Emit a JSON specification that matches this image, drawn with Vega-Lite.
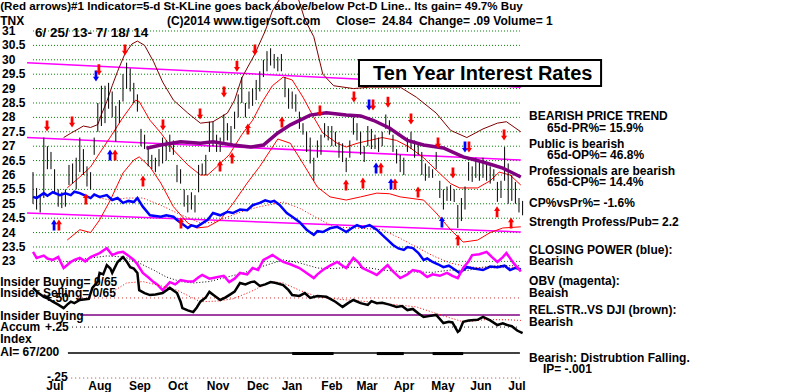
{
"$schema": "https://vega.github.io/schema/vega-lite/v6.json",
"width": 798, "height": 392, "autosize": {"type": "none"}, "padding": 0,
"background": "white",
"config": {"view": {"stroke": null}, "axis": {"disable": true}, "text": {"font": "Liberation Sans", "fontWeight": "bold", "fontSize": 12, "color": "#000"}},
"datasets": {
"grid": [{"g":23},{"g":23.5},{"g":24},{"g":24.5},{"g":25},{"g":25.5},{"g":26},{"g":26.5},{"g":27},{"g":27.5},{"g":28},{"g":28.5},{"g":29},{"g":29.5},{"g":30},{"g":30.5},{"g":31}],
"bars": [
{"t":0,"h":26.1,"l":25.0},{"t":2,"h":25.55,"l":24.8},{"t":4,"h":25.3,"l":24.7},{"t":6,"h":27.3,"l":25.2},{"t":8,"h":27.0,"l":26.2},{"t":10,"h":26.8,"l":26.2},{"t":12,"h":26.2,"l":25.4},{"t":14,"h":25.5,"l":24.9},{"t":16,"h":25.4,"l":24.85},{"t":18,"h":25.5,"l":24.9},
{"t":20,"h":26.35,"l":25.65},{"t":22,"h":26.4,"l":25.7},{"t":24,"h":26.6,"l":25.5},{"t":26,"h":27.3,"l":26.1},{"t":28,"h":26.9,"l":26.0},{"t":30,"h":26.3,"l":25.6},{"t":32,"h":26.1,"l":25.5},{"t":34,"h":27.3,"l":26.7},{"t":36,"h":28.5,"l":27.5},{"t":38,"h":29.1,"l":27.7},
{"t":40,"h":29.1,"l":27.8},{"t":42,"h":29.2,"l":28.3},{"t":44,"h":28.9,"l":28.0},{"t":46,"h":28.4,"l":27.15},{"t":48,"h":28.6,"l":27.8},{"t":50,"h":29.5,"l":28.55},{"t":52,"h":29.9,"l":29.0},{"t":54,"h":29.7,"l":28.9},{"t":56,"h":29.2,"l":28.5},{"t":58,"h":28.8,"l":28.2},
{"t":60,"h":27.6,"l":27.0},{"t":62,"h":27.4,"l":26.9},{"t":64,"h":26.9,"l":26.3},{"t":66,"h":26.7,"l":26.2},{"t":68,"h":26.6,"l":26.1},{"t":70,"h":26.9,"l":26.3},{"t":72,"h":27.3,"l":26.4},{"t":74,"h":27.2,"l":26.5},{"t":76,"h":27.4,"l":26.8},{"t":78,"h":27.2,"l":26.7},
{"t":80,"h":26.35,"l":25.75},{"t":82,"h":26.2,"l":25.7},{"t":84,"h":25.5,"l":24.9},{"t":86,"h":25.3,"l":24.7},{"t":88,"h":25.4,"l":24.8},{"t":90,"h":25.3,"l":24.7},{"t":92,"h":26.35,"l":25.4},{"t":94,"h":26.4,"l":26.0},{"t":96,"h":26.7,"l":26.0},{"t":98,"h":27.85,"l":26.8},
{"t":100,"h":27.85,"l":27.0},{"t":102,"h":27.4,"l":26.8},{"t":104,"h":27.3,"l":26.8},{"t":106,"h":28.1,"l":27.15},{"t":108,"h":27.8,"l":27.2},{"t":110,"h":27.7,"l":27.1},{"t":112,"h":28.2,"l":27.6},{"t":114,"h":28.8,"l":28.0},{"t":116,"h":29.4,"l":28.5},{"t":118,"h":28.5,"l":28.0},
{"t":120,"h":28.9,"l":28.3},{"t":122,"h":29.0,"l":28.4},{"t":124,"h":29.3,"l":28.6},{"t":126,"h":29.6,"l":28.9},{"t":128,"h":30.0,"l":29.4},{"t":130,"h":30.3,"l":29.6},{"t":132,"h":30.4,"l":29.8},{"t":134,"h":30.2,"l":29.7},{"t":136,"h":30.1,"l":29.6},{"t":138,"h":30.2,"l":29.6},
{"t":140,"h":29.4,"l":28.7},{"t":142,"h":29.0,"l":28.3},{"t":144,"h":28.9,"l":28.3},{"t":146,"h":28.8,"l":28.2},{"t":148,"h":28.2,"l":27.6},{"t":150,"h":27.8,"l":27.4},{"t":152,"h":27.5,"l":26.8},{"t":154,"h":27.3,"l":26.4},{"t":156,"h":26.6,"l":25.8},{"t":158,"h":27.2,"l":26.6},
{"t":160,"h":27.4,"l":26.7},{"t":162,"h":27.8,"l":27.3},{"t":164,"h":27.7,"l":27.2},{"t":166,"h":27.7,"l":27.0},{"t":168,"h":27.5,"l":27.0},{"t":170,"h":27.15,"l":26.6},{"t":172,"h":27.1,"l":26.45},{"t":174,"h":26.6,"l":26.1},{"t":176,"h":27.2,"l":26.6},{"t":178,"h":28.0,"l":27.4},
{"t":180,"h":27.8,"l":27.2},{"t":182,"h":27.5,"l":26.7},{"t":184,"h":27.0,"l":26.45},{"t":186,"h":27.7,"l":27.0},{"t":188,"h":27.6,"l":26.9},{"t":190,"h":27.4,"l":26.9},{"t":192,"h":27.3,"l":26.8},{"t":194,"h":27.5,"l":27.0},{"t":196,"h":28.1,"l":27.6},{"t":198,"h":27.9,"l":27.4},
{"t":200,"h":27.4,"l":26.8},{"t":202,"h":26.9,"l":26.4},{"t":204,"h":26.7,"l":26.1},{"t":206,"h":26.6,"l":26.0},{"t":208,"h":27.3,"l":26.8},{"t":210,"h":27.5,"l":26.9},{"t":212,"h":27.2,"l":26.6},{"t":214,"h":27.1,"l":26.7},{"t":216,"h":26.8,"l":26.0},{"t":218,"h":26.4,"l":25.8},
{"t":220,"h":26.3,"l":25.9},{"t":222,"h":26.2,"l":25.9},{"t":224,"h":26.8,"l":26.2},{"t":226,"h":25.8,"l":25.2},{"t":228,"h":25.5,"l":24.8},{"t":230,"h":25.6,"l":25.1},{"t":232,"h":25.65,"l":25.1},{"t":234,"h":25.5,"l":25.06},{"t":236,"h":24.96,"l":24.16},{"t":238,"h":25.2,"l":24.4},
{"t":240,"h":25.6,"l":24.8},{"t":242,"h":26.45,"l":25.8},{"t":244,"h":26.3,"l":25.76},{"t":246,"h":26.6,"l":25.9},{"t":248,"h":26.5,"l":25.8},{"t":250,"h":26.6,"l":25.9},{"t":252,"h":26.4,"l":25.8},{"t":254,"h":26.3,"l":25.7},{"t":256,"h":26.2,"l":25.8},{"t":258,"h":25.76,"l":25.07},
{"t":260,"h":25.8,"l":25.2},{"t":262,"h":26.97,"l":25.8},{"t":264,"h":26.4,"l":25.0},{"t":266,"h":26.0,"l":25.1},{"t":268,"h":25.76,"l":25.0},{"t":270,"h":25.2,"l":24.7},{"t":272,"h":25.1,"l":24.6}],
"upper": [{"t":17,"v":27.3},{"t":21,"v":27.45},{"t":28,"v":27.7},{"t":32,"v":27.65},{"t":36,"v":27.75},{"t":38,"v":28.1},{"t":41,"v":28.55},{"t":44,"v":29.1},{"t":47,"v":29.6},{"t":51,"v":30.2},{"t":55,"v":30.55},{"t":58,"v":30.65},{"t":62,"v":30.5},{"t":67,"v":29.93},{"t":72,"v":29.23},{"t":78,"v":28.6},{"t":86,"v":28.15},{"t":93,"v":27.8},{"t":100,"v":27.85},{"t":108,"v":28.15},{"t":112,"v":28.6},{"t":116,"v":29.37},{"t":123,"v":30.17},{"t":129,"v":31.0},{"t":133,"v":31.7},{"t":137,"v":32.1},{"t":143,"v":32.3},{"t":147,"v":32.2},{"t":151,"v":31.4},{"t":156,"v":30.8},{"t":161,"v":29.5},{"t":167,"v":29.1},{"t":178,"v":29.0},{"t":187,"v":29.05},{"t":196,"v":29.05},{"t":204,"v":29.05},{"t":213,"v":28.7},{"t":224,"v":28.15},{"t":232,"v":27.55},{"t":241,"v":27.3},{"t":250,"v":27.6},{"t":258,"v":27.8},{"t":263,"v":27.85},{"t":271,"v":27.5}],
"mid": [{"t":19,"v":25.55},{"t":26,"v":25.93},{"t":32,"v":26.28},{"t":37,"v":26.76},{"t":43,"v":27.32},{"t":50,"v":28.0},{"t":57,"v":28.6},{"t":59,"v":28.55},{"t":65,"v":27.9},{"t":71,"v":27.46},{"t":78,"v":26.87},{"t":86,"v":26.35},{"t":93,"v":26.0},{"t":97,"v":26.0},{"t":102,"v":26.28},{"t":109,"v":26.7},{"t":116,"v":27.4},{"t":122,"v":27.9},{"t":127,"v":28.5},{"t":133,"v":29.1},{"t":139,"v":29.4},{"t":144,"v":29.3},{"t":150,"v":28.7},{"t":156,"v":28.0},{"t":161,"v":27.46},{"t":169,"v":27.1},{"t":174,"v":26.97},{"t":180,"v":27.1},{"t":187,"v":27.2},{"t":194,"v":27.3},{"t":202,"v":27.2},{"t":209,"v":26.97},{"t":217,"v":26.6},{"t":224,"v":26.17},{"t":232,"v":25.7},{"t":237,"v":25.55},{"t":247,"v":25.55},{"t":254,"v":25.8},{"t":259,"v":26.1},{"t":265,"v":26.0},{"t":271,"v":25.65}],
"lower": [{"t":19,"v":23.74},{"t":26,"v":24.1},{"t":32,"v":24.0},{"t":37,"v":24.44},{"t":43,"v":25.13},{"t":50,"v":26.07},{"t":56,"v":26.52},{"t":59,"v":26.63},{"t":65,"v":26.28},{"t":71,"v":25.72},{"t":78,"v":24.9},{"t":86,"v":24.33},{"t":91,"v":24.16},{"t":97,"v":24.2},{"t":104,"v":24.44},{"t":111,"v":25.0},{"t":119,"v":25.72},{"t":126,"v":26.3},{"t":136,"v":27.25},{"t":143,"v":27.1},{"t":150,"v":26.4},{"t":158,"v":25.58},{"t":165,"v":25.24},{"t":174,"v":25.13},{"t":182,"v":25.24},{"t":191,"v":25.37},{"t":198,"v":25.35},{"t":204,"v":25.24},{"t":217,"v":25.13},{"t":224,"v":24.68},{"t":232,"v":24.1},{"t":239,"v":23.67},{"t":247,"v":23.74},{"t":254,"v":24.0},{"t":261,"v":24.16},{"t":271,"v":24.2}],
"ma": [{"t":63,"v":26.93},{"t":71,"v":27.04},{"t":82,"v":27.15},{"t":93,"v":27.1},{"t":100,"v":27.15},{"t":111,"v":27.04},{"t":121,"v":26.97},{"t":128,"v":27.04},{"t":136,"v":27.46},{"t":143,"v":27.74},{"t":154,"v":28.08},{"t":163,"v":28.16},{"t":174,"v":28.08},{"t":182,"v":28.05},{"t":189,"v":27.9},{"t":198,"v":27.63},{"t":208,"v":27.2},{"t":217,"v":27.04},{"t":228,"v":26.94},{"t":239,"v":26.63},{"t":250,"v":26.45},{"t":261,"v":26.24},{"t":271,"v":25.93}],
"trend": [{"k":1,"t":-3.3,"v":29.9},{"k":1,"t":271,"v":29.05},{"k":2,"t":-3.3,"v":27.3},{"k":2,"t":271,"v":26.52},{"k":3,"t":-3.3,"v":24.68},{"k":3,"t":271,"v":24.02}],
"cp": [{"t":0,"v":25.24},{"t":2,"v":25.2},{"t":6,"v":25.37},{"t":8,"v":25.28},{"t":11,"v":25.4},{"t":15,"v":25.3},{"t":18,"v":25.36},{"t":21,"v":25.3},{"t":23,"v":25.42},{"t":26,"v":25.37},{"t":29,"v":25.28},{"t":32,"v":25.2},{"t":34,"v":25.32},{"t":37,"v":25.24},{"t":41,"v":25.3},{"t":44,"v":25.13},{"t":47,"v":25.2},{"t":50,"v":25.03},{"t":53,"v":25.1},{"t":56,"v":25.06},{"t":58,"v":25.2},{"t":61,"v":24.9},{"t":65,"v":24.6},{"t":71,"v":24.55},{"t":74,"v":24.6},{"t":78,"v":24.55},{"t":80,"v":24.44},{"t":86,"v":24.16},{"t":88,"v":24.25},{"t":91,"v":24.2},{"t":97,"v":24.44},{"t":100,"v":24.68},{"t":104,"v":24.6},{"t":108,"v":24.72},{"t":111,"v":24.68},{"t":115,"v":24.8},{"t":119,"v":24.78},{"t":122,"v":24.95},{"t":126,"v":25.03},{"t":129,"v":25.12},{"t":132,"v":25.06},{"t":134,"v":25.1},{"t":137,"v":24.96},{"t":141,"v":24.68},{"t":144,"v":24.55},{"t":148,"v":24.37},{"t":152,"v":24.1},{"t":156,"v":23.92},{"t":158,"v":24.05},{"t":161,"v":24.02},{"t":165,"v":24.15},{"t":169,"v":24.2},{"t":172,"v":24.1},{"t":174,"v":24.02},{"t":177,"v":24.15},{"t":180,"v":24.26},{"t":183,"v":24.18},{"t":187,"v":24.26},{"t":191,"v":24.1},{"t":194,"v":23.92},{"t":197,"v":23.75},{"t":200,"v":23.57},{"t":203,"v":23.45},{"t":206,"v":23.4},{"t":208,"v":23.5},{"t":211,"v":23.46},{"t":214,"v":23.3},{"t":217,"v":23.05},{"t":219,"v":23.1},{"t":222,"v":22.98},{"t":225,"v":22.9},{"t":228,"v":22.8},{"t":231,"v":22.85},{"t":233,"v":22.77},{"t":237,"v":22.6},{"t":241,"v":22.8},{"t":245,"v":22.75},{"t":250,"v":22.7},{"t":254,"v":22.82},{"t":258,"v":22.8},{"t":262,"v":22.85},{"t":265,"v":22.7},{"t":268,"v":22.78},{"t":271,"v":22.72}],
"cpma": [{"t":37,"v":25.2},{"t":43,"v":25.13},{"t":52,"v":25.2},{"t":61,"v":25.2},{"t":71,"v":24.95},{"t":80,"v":24.68},{"t":93,"v":24.33},{"t":100,"v":24.35},{"t":108,"v":24.54},{"t":117,"v":24.75},{"t":126,"v":24.9},{"t":139,"v":25.06},{"t":148,"v":24.85},{"t":158,"v":24.5},{"t":167,"v":24.2},{"t":182,"v":24.15},{"t":194,"v":24.1},{"t":204,"v":23.8},{"t":213,"v":23.5},{"t":222,"v":23.2},{"t":232,"v":22.94},{"t":241,"v":22.82},{"t":250,"v":22.77},{"t":259,"v":22.78},{"t":271,"v":22.8}],
"obv": [{"t":0,"v":23.33},{"t":2,"v":23.12},{"t":6,"v":23.2},{"t":8,"v":23.1},{"t":11,"v":23.05},{"t":14,"v":23.15},{"t":17,"v":22.77},{"t":21,"v":22.98},{"t":23,"v":23.05},{"t":26,"v":23.12},{"t":29,"v":23.0},{"t":32,"v":23.15},{"t":37,"v":23.29},{"t":41,"v":23.46},{"t":44,"v":23.22},{"t":47,"v":23.3},{"t":50,"v":23.33},{"t":53,"v":23.2},{"t":56,"v":23.05},{"t":58,"v":22.9},{"t":61,"v":22.6},{"t":64,"v":22.45},{"t":67,"v":22.28},{"t":69,"v":22.2},{"t":72,"v":22.0},{"t":76,"v":22.28},{"t":79,"v":22.2},{"t":82,"v":22.35},{"t":86,"v":22.3},{"t":89,"v":22.3},{"t":92,"v":22.45},{"t":94,"v":22.53},{"t":98,"v":22.4},{"t":102,"v":22.45},{"t":106,"v":22.5},{"t":109,"v":22.28},{"t":112,"v":22.4},{"t":115,"v":22.6},{"t":119,"v":22.55},{"t":122,"v":22.77},{"t":125,"v":22.7},{"t":128,"v":23.05},{"t":131,"v":23.15},{"t":133,"v":23.22},{"t":136,"v":23.1},{"t":139,"v":22.98},{"t":143,"v":22.9},{"t":148,"v":22.77},{"t":152,"v":22.6},{"t":156,"v":22.42},{"t":158,"v":22.55},{"t":161,"v":22.7},{"t":165,"v":22.85},{"t":169,"v":22.98},{"t":172,"v":22.85},{"t":174,"v":22.77},{"t":178,"v":23.12},{"t":181,"v":22.95},{"t":183,"v":22.77},{"t":187,"v":22.65},{"t":191,"v":22.53},{"t":194,"v":22.7},{"t":197,"v":22.87},{"t":200,"v":22.65},{"t":204,"v":22.42},{"t":208,"v":22.55},{"t":211,"v":22.7},{"t":215,"v":22.65},{"t":219,"v":22.46},{"t":222,"v":22.55},{"t":226,"v":22.5},{"t":230,"v":22.6},{"t":233,"v":22.5},{"t":236,"v":22.42},{"t":239,"v":22.77},{"t":242,"v":23.0},{"t":244,"v":23.22},{"t":248,"v":23.25},{"t":252,"v":23.33},{"t":255,"v":23.15},{"t":258,"v":22.98},{"t":261,"v":23.15},{"t":263,"v":23.29},{"t":267,"v":22.94},{"t":271,"v":22.65}],
"obvma": [{"t":19,"v":22.98},{"t":30,"v":23.1},{"t":41,"v":23.19},{"t":51,"v":23.15},{"t":59,"v":22.94},{"t":67,"v":22.7},{"t":74,"v":22.46},{"t":82,"v":22.3},{"t":89,"v":22.25},{"t":98,"v":22.3},{"t":108,"v":22.46},{"t":117,"v":22.6},{"t":126,"v":22.8},{"t":139,"v":23.05},{"t":148,"v":22.95},{"t":158,"v":22.77},{"t":167,"v":22.75},{"t":176,"v":22.8},{"t":186,"v":22.78},{"t":194,"v":22.7},{"t":204,"v":22.65},{"t":213,"v":22.63},{"t":222,"v":22.62},{"t":232,"v":22.7},{"t":241,"v":22.68},{"t":250,"v":22.8},{"t":259,"v":22.85},{"t":271,"v":22.85}],
"rs": [{"t":0,"v":22.08},{"t":3,"v":21.9},{"t":6,"v":21.77},{"t":8,"v":21.72},{"t":11,"v":21.6},{"t":14,"v":21.5},{"t":17,"v":21.38},{"t":19,"v":21.5},{"t":21,"v":21.6},{"t":23,"v":21.55},{"t":26,"v":21.66},{"t":31,"v":21.7},{"t":33,"v":22.08},{"t":36,"v":22.3},{"t":37,"v":22.6},{"t":39,"v":22.55},{"t":41,"v":22.87},{"t":43,"v":22.75},{"t":44,"v":22.6},{"t":47,"v":22.98},{"t":50,"v":23.15},{"t":52,"v":23.0},{"t":54,"v":22.8},{"t":56,"v":22.75},{"t":58,"v":22.6},{"t":59,"v":22.0},{"t":62,"v":21.9},{"t":65,"v":21.83},{"t":68,"v":21.85},{"t":72,"v":21.9},{"t":76,"v":22.08},{"t":80,"v":21.9},{"t":82,"v":21.6},{"t":83,"v":21.38},{"t":86,"v":21.3},{"t":89,"v":21.24},{"t":91,"v":21.4},{"t":93,"v":21.6},{"t":96,"v":21.75},{"t":98,"v":21.94},{"t":101,"v":21.8},{"t":104,"v":21.66},{"t":107,"v":21.75},{"t":109,"v":21.83},{"t":112,"v":21.95},{"t":115,"v":22.25},{"t":118,"v":22.2},{"t":121,"v":22.28},{"t":123,"v":22.3},{"t":126,"v":22.15},{"t":129,"v":22.2},{"t":132,"v":22.28},{"t":135,"v":22.25},{"t":139,"v":22.18},{"t":142,"v":22.0},{"t":144,"v":21.83},{"t":148,"v":21.8},{"t":151,"v":21.9},{"t":154,"v":21.73},{"t":158,"v":21.8},{"t":163,"v":21.77},{"t":168,"v":21.6},{"t":172,"v":21.42},{"t":175,"v":21.55},{"t":178,"v":21.66},{"t":182,"v":21.55},{"t":186,"v":21.49},{"t":188,"v":21.62},{"t":191,"v":21.55},{"t":194,"v":21.56},{"t":198,"v":21.5},{"t":202,"v":21.42},{"t":205,"v":21.45},{"t":208,"v":21.31},{"t":211,"v":21.35},{"t":214,"v":21.2},{"t":217,"v":21.07},{"t":220,"v":21.1},{"t":224,"v":21.14},{"t":228,"v":20.86},{"t":231,"v":20.9},{"t":233,"v":20.88},{"t":236,"v":20.55},{"t":237,"v":20.6},{"t":239,"v":20.9},{"t":242,"v":20.95},{"t":247,"v":20.97},{"t":250,"v":21.07},{"t":254,"v":20.95},{"t":258,"v":20.79},{"t":261,"v":20.85},{"t":263,"v":20.8},{"t":266,"v":20.75},{"t":269,"v":20.6},{"t":272,"v":20.51}],
"rsma": [{"t":43,"v":21.9},{"t":52,"v":22.25},{"t":61,"v":22.3},{"t":71,"v":22.15},{"t":80,"v":22.0},{"t":93,"v":21.6},{"t":102,"v":21.62},{"t":111,"v":21.7},{"t":121,"v":21.95},{"t":132,"v":22.3},{"t":139,"v":22.25},{"t":148,"v":22.0},{"t":158,"v":21.77},{"t":171,"v":21.68},{"t":186,"v":21.6},{"t":198,"v":21.52},{"t":213,"v":21.42},{"t":226,"v":21.15},{"t":239,"v":20.9},{"t":252,"v":20.98},{"t":265,"v":20.97},{"t":271,"v":20.95}],
"ai": [{"seg":1,"t":144,"v":19.8},{"seg":1,"t":167,"v":19.8},{"seg":2,"t":191,"v":19.8},{"seg":2,"t":206,"v":19.8},{"seg":3,"t":222,"v":19.8},{"seg":3,"t":239,"v":19.8}],
"arrows": [
{"t":7.8,"v":27.7,"d":"dn","k":"r"},{"t":21.7,"v":27.84,"d":"dn","k":"r"},{"t":35,"v":29.44,"d":"dn","k":"b"},{"t":36.6,"v":29.65,"d":"dn","k":"r"},{"t":51.1,"v":30.34,"d":"dn","k":"r"},{"t":72.2,"v":27.74,"d":"dn","k":"r"},{"t":92.8,"v":28.12,"d":"dn","k":"r"},{"t":106.1,"v":28.88,"d":"dn","k":"r"},{"t":113.3,"v":29.78,"d":"dn","k":"r"},{"t":123.3,"v":30.34,"d":"dn","k":"r"},{"t":159.4,"v":28.22,"d":"dn","k":"r"},{"t":178.3,"v":28.71,"d":"dn","k":"r"},{"t":186.7,"v":28.43,"d":"dn","k":"b"},{"t":188.9,"v":28.43,"d":"dn","k":"r"},{"t":197.2,"v":28.53,"d":"dn","k":"r"},{"t":210,"v":27.94,"d":"dn","k":"r"},{"t":225,"v":27.11,"d":"dn","k":"r"},{"t":233.3,"v":26.07,"d":"dn","k":"r"},{"t":240,"v":26.97,"d":"dn","k":"b"},{"t":242.2,"v":26.97,"d":"dn","k":"r"},{"t":261.7,"v":27.39,"d":"dn","k":"r"},
{"t":11.7,"v":24.26,"d":"up","k":"b"},{"t":14.4,"v":24.26,"d":"up","k":"r"},{"t":29.4,"v":25.17,"d":"up","k":"r"},{"t":42.8,"v":26.69,"d":"up","k":"b"},{"t":45.6,"v":26.69,"d":"up","k":"r"},{"t":61.1,"v":25.79,"d":"up","k":"r"},{"t":82.2,"v":24.33,"d":"up","k":"r"},{"t":103.9,"v":26.31,"d":"up","k":"r"},{"t":110.6,"v":26.59,"d":"up","k":"r"},{"t":119.4,"v":27.6,"d":"up","k":"r"},{"t":138.3,"v":27.84,"d":"up","k":"r"},{"t":173.9,"v":25.65,"d":"up","k":"r"},{"t":183.3,"v":25.72,"d":"up","k":"r"},{"t":190.6,"v":26.24,"d":"up","k":"b"},{"t":193.3,"v":26.24,"d":"up","k":"r"},{"t":198.9,"v":25.69,"d":"up","k":"b"},{"t":201.1,"v":25.69,"d":"up","k":"r"},{"t":213.9,"v":25.41,"d":"up","k":"r"},{"t":227.2,"v":24.37,"d":"up","k":"b"},{"t":236.1,"v":23.74,"d":"up","k":"r"},{"t":257.8,"v":24.72,"d":"up","k":"r"},{"t":265.6,"v":24.33,"d":"up","k":"r"}],
"notes": [
{"t":-18.2,"v":31.36,"s":"TNX"},
{"t":74.4,"v":31.36,"s":"(C)2014 www.tigersoft.com"},
{"t":168.3,"v":31.36,"s":"Close="},
{"t":193.9,"v":31.36,"s":"24.84"},
{"t":214.4,"v":31.36,"s":"Change= .09 Volume= 1"},
{"t":275.6,"v":28.05,"s":"BEARISH PRICE TREND"},
{"t":285.6,"v":27.63,"s":"65d-PR%= 15.9%"},
{"t":275.6,"v":27.08,"s":"Public is bearish"},
{"t":285.6,"v":26.69,"s":"65d-OP%= 46.8%"},
{"t":275.6,"v":26.14,"s":"Professionals are bearish"},
{"t":285.6,"v":25.76,"s":"65d-CP%= 14.4%"},
{"t":275.6,"v":25.03,"s":"CP%vsPr%= -1.6%"},
{"t":275.6,"v":24.37,"s":"Strength Profess/Pub= 2.2"},
{"t":275.6,"v":23.40,"s":"CLOSING POWER (blue):"},
{"t":275.6,"v":23.01,"s":"Bearish"},
{"t":275.6,"v":22.32,"s":"OBV (magenta):"},
{"t":275.6,"v":21.90,"s":"Beaish"},
{"t":275.6,"v":21.31,"s":"REL.STR..VS DJI (brown):"},
{"t":275.6,"v":20.90,"s":"Bearish"},
{"t":275.6,"v":19.64,"s":"Bearish: Distrubtion Falling."},
{"t":283.3,"v":19.27,"s":"IP= -.001"},
{"t":6.7,"v":21.73,"s":"+.50"},
{"t":-18.2,"v":22.28,"s":"Insider Buying= 0/65"},
{"t":-18.2,"v":21.90,"s":"Insider Selling= 0/65"},
{"t":-18.2,"v":21.10,"s":"Insider Buying"},
{"t":-18.2,"v":20.72,"s":"Accum"},
{"t":6.7,"v":20.72,"s":"+.25"},
{"t":-18.2,"v":20.31,"s":"Index"},
{"t":-18.2,"v":19.85,"s":"AI= 67/200"},
{"t":7.8,"v":19.0,"s":"-.25"}],
"months": [{"t":12.2,"m":"Jul"},{"t":37.2,"m":"Aug"},{"t":59.4,"m":"Sep"},{"t":80.6,"m":"Oct"},{"t":102.8,"m":"Nov"},{"t":125,"m":"Dec"},{"t":143.9,"m":"Jan"},{"t":166.1,"m":"Feb"},{"t":185.6,"m":"Mar"},{"t":206.1,"m":"Apr"},{"t":227.8,"m":"May"},{"t":248.9,"m":"Jun"},{"t":268.9,"m":"Jul"}]
},
"layer": [
{"data":{"name":"grid"},"mark":{"type":"rule","color":"#008000","strokeDash":[1,2],"strokeWidth":1},
 "encoding":{"y":{"field":"g","type":"quantitative","scale":{"domain":[18.465,32.076],"nice":false,"zero":false},"axis":null},
  "x":{"datum":0,"scale":{"domain":[-18.333,425],"nice":false,"zero":false},"axis":null},"x2":{"datum":270.5}}},
{"data":{"name":"grid"},"mark":{"type":"text","align":"left","baseline":"middle"},"encoding":{"x":{"datum":-17.2,"axis":null},"y":{"field":"g","type":"quantitative","axis":null},"text":{"field":"g","type":"quantitative","format":"~g"}}},
{"data":{"values":[{}]},"mark":{"type":"rule","color":"#cc3333","strokeDash":[1,3],"strokeWidth":1},"encoding":{"y":{"datum":21.73,"axis":null},"x":{"datum":25,"axis":null},"x2":{"datum":270.5}}},
{"data":{"values":[{}]},"mark":{"type":"rule","color":"#800080","strokeWidth":1.5},"encoding":{"y":{"datum":21.14,"axis":null},"x":{"datum":26,"axis":null},"x2":{"datum":270.5}}},
{"data":{"values":[{}]},"mark":{"type":"rule","color":"#000","strokeDash":[1,3],"strokeWidth":1},"encoding":{"y":{"datum":20.72,"axis":null},"x":{"datum":21.7,"axis":null},"x2":{"datum":270.5}}},
{"data":{"values":[{}]},"mark":{"type":"rule","color":"#000","strokeWidth":1.5},"encoding":{"y":{"datum":19.82,"axis":null},"x":{"datum":19.4,"axis":null},"x2":{"datum":270.5}}},
{"data":{"values":[{}]},"mark":{"type":"rule","color":"#cc3333","strokeDash":[1,3],"strokeWidth":1},"encoding":{"y":{"datum":18.95,"axis":null},"x":{"datum":19,"axis":null},"x2":{"datum":270.5}}},
{"data":{"name":"ai"},"mark":{"type":"line","color":"#000","strokeWidth":3},"encoding":{"x":{"field":"t","type":"quantitative","axis":null},"y":{"field":"v","type":"quantitative","axis":null},"detail":{"field":"seg"}}},
{"data":{"name":"trend"},"mark":{"type":"line","color":"#ff00ff","strokeWidth":1.5},"encoding":{"x":{"field":"t","type":"quantitative","axis":null},"y":{"field":"v","type":"quantitative","axis":null},"detail":{"field":"k"}}},
{"data":{"name":"upper"},"mark":{"type":"line","color":"#800000","strokeWidth":1},"encoding":{"x":{"field":"t","type":"quantitative","axis":null},"y":{"field":"v","type":"quantitative","axis":null}}},
{"data":{"name":"mid"},"mark":{"type":"line","color":"#ff0000","strokeWidth":1},"encoding":{"x":{"field":"t","type":"quantitative","axis":null},"y":{"field":"v","type":"quantitative","axis":null}}},
{"data":{"name":"lower"},"mark":{"type":"line","color":"#ff0000","strokeWidth":1},"encoding":{"x":{"field":"t","type":"quantitative","axis":null},"y":{"field":"v","type":"quantitative","axis":null}}},
{"data":{"name":"cpma"},"mark":{"type":"line","color":"#ff0000","strokeWidth":1,"strokeDash":[1,2]},"encoding":{"x":{"field":"t","type":"quantitative","axis":null},"y":{"field":"v","type":"quantitative","axis":null}}},
{"data":{"name":"bars"},"mark":{"type":"rule","color":"#000","strokeWidth":1},"encoding":{"x":{"field":"t","type":"quantitative","axis":null},"y":{"field":"l","type":"quantitative","axis":null},"y2":{"field":"h"}}},
{"data":{"name":"ma"},"mark":{"type":"line","color":"#800080","strokeWidth":3.5},"encoding":{"x":{"field":"t","type":"quantitative","axis":null},"y":{"field":"v","type":"quantitative","axis":null}}},
{"data":{"name":"cp"},"mark":{"type":"line","color":"#0000ff","strokeWidth":2.5},"encoding":{"x":{"field":"t","type":"quantitative","axis":null},"y":{"field":"v","type":"quantitative","axis":null}}},
{"data":{"name":"obvma"},"mark":{"type":"line","color":"#000","strokeWidth":1,"strokeDash":[1,2]},"encoding":{"x":{"field":"t","type":"quantitative","axis":null},"y":{"field":"v","type":"quantitative","axis":null}}},
{"data":{"name":"obv"},"mark":{"type":"line","color":"#ff00ff","strokeWidth":2.5},"encoding":{"x":{"field":"t","type":"quantitative","axis":null},"y":{"field":"v","type":"quantitative","axis":null}}},
{"data":{"name":"rsma"},"mark":{"type":"line","color":"#ff0000","strokeWidth":1,"strokeDash":[1,2]},"encoding":{"x":{"field":"t","type":"quantitative","axis":null},"y":{"field":"v","type":"quantitative","axis":null}}},
{"data":{"name":"rs"},"mark":{"type":"line","color":"#000","strokeWidth":2.5},"encoding":{"x":{"field":"t","type":"quantitative","axis":null},"y":{"field":"v","type":"quantitative","axis":null}}},
{"data":{"name":"arrows"},"mark":{"type":"point","filled":true,"size":121,"opacity":1,"strokeWidth":0},
 "encoding":{"x":{"field":"t","type":"quantitative","axis":null},"y":{"field":"v","type":"quantitative","axis":null},
  "shape":{"field":"d","type":"nominal","scale":{"domain":["dn","up"],"range":["M-0.25,-1L0.25,-1L0.25,0.15L0.55,0.15L0,1L-0.55,0.15L-0.25,0.15Z","M-0.25,1L0.25,1L0.25,-0.15L0.55,-0.15L0,-1L-0.55,-0.15L-0.25,-0.15Z"]},"legend":null},
  "color":{"field":"k","type":"nominal","scale":{"domain":["r","b"],"range":["#ff0000","#0000ff"]},"legend":null}}},
{"data":{"values":[{}]},"mark":{"type":"rect","fill":"#ffffff","stroke":"#000","strokeWidth":2},"encoding":{"x":{"datum":181.1,"axis":null},"x2":{"datum":315.6},"y":{"datum":29.993,"axis":null},"y2":{"datum":29.09}}},
{"data":{"values":[{}]},"mark":{"type":"text","text":"Ten Year Interest Rates","fontSize":20,"align":"left","baseline":"middle"},"encoding":{"x":{"datum":188.9,"axis":null},"y":{"datum":29.52,"axis":null}}},
{"data":{"values":[{}]},"mark":{"type":"text","text":"6/ 25/ 13- 7/ 18/ 14","fontSize":13.5,"align":"left","baseline":"middle"},"encoding":{"x":{"datum":1.1,"axis":null},"y":{"datum":30.93,"axis":null}}},
{"data":{"values":[{}]},"mark":{"type":"text","text":"(Red arrows)#1 Indicator=5-d St-KLine goes back above/below Pct-D Line.. Its gain= 49.7% Buy","fontSize":11.6,"align":"left","baseline":"middle"},"encoding":{"x":{"datum":-18.2,"axis":null},"y":{"datum":31.85,"axis":null}}},
{"data":{"name":"notes"},"mark":{"type":"text","align":"left","baseline":"middle"},"encoding":{"x":{"field":"t","type":"quantitative","axis":null},"y":{"field":"v","type":"quantitative","axis":null},"text":{"field":"s"}}},
{"data":{"name":"months"},"mark":{"type":"text","align":"center","baseline":"middle"},"encoding":{"x":{"field":"t","type":"quantitative","axis":null},"y":{"datum":18.656,"axis":null},"text":{"field":"m"}}}
]
}
